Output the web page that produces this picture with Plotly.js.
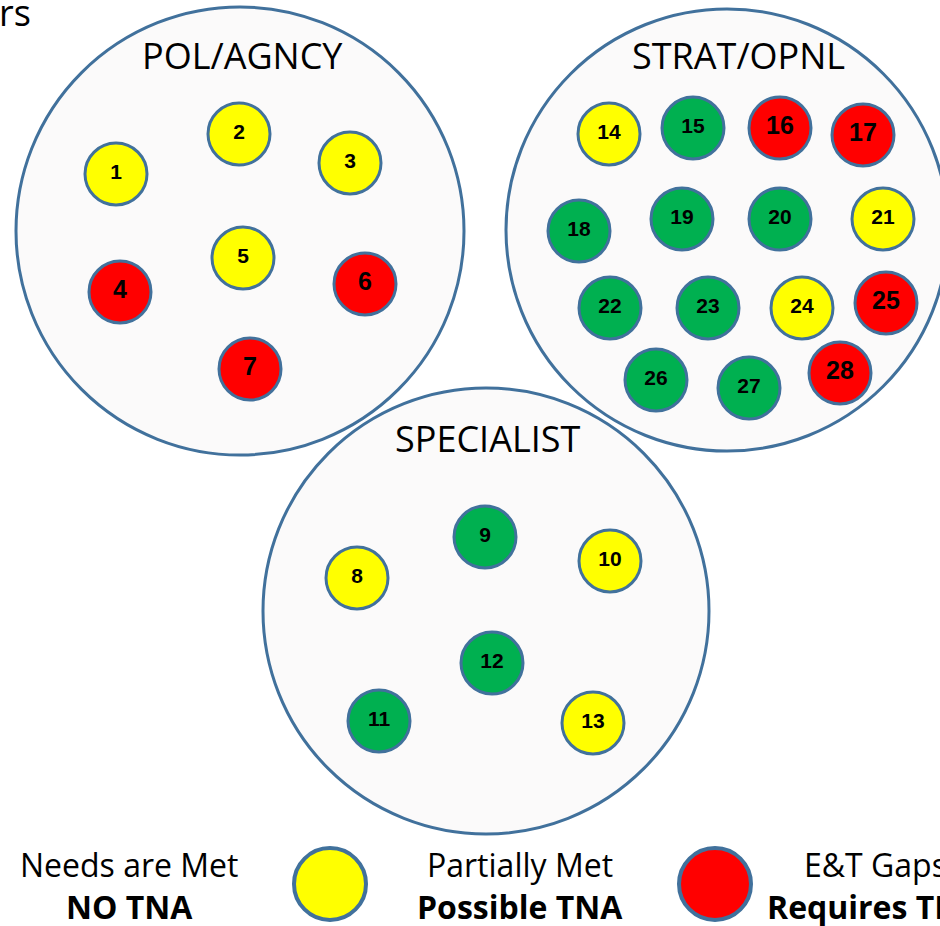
<!DOCTYPE html>
<html>
<head>
<meta charset="utf-8">
<script src="https://cdn.plot.ly/plotly-3.0.1.min.js"></script>
<style>html,body{margin:0;padding:0;background:#fff;}#chart{width:940px;height:926px;}</style>
</head>
<body>
<div id="chart"></div>
<script>
// ---- data ----
var groupNames = ["POL/AGNCY", "STRAT/OPNL", "SPECIALIST"];
var groupCx = [240, 727, 486];
var groupCy = [231, 230, 611];
var groupR = [224, 221, 223];

var nodeIds = [1,2,3,4,5,6,7,8,9,10,11,12,13,14,15,16,17,18,19,20,21,22,23,24,25,26,27,28];
var nodeX = [116,239,350,120,243,365,250, 357,485,610,379,492,593, 609,693,780,863,579,682,780,883,610,708,802,886,656,749,840];
var nodeY = [174,134,163,292,258,284,369, 578,537,561,721,663,723, 134,128,128,135,231,219,219,219,308,308,308,303,380,388,373];
var nodeStatus = ["P","P","P","G","P","G","G", "P","M","P","M","M","P", "P","M","G","G","M","M","M","P","M","M","P","G","M","M","G"];

var legendLine1 = ["Needs are Met", "Partially Met", "E&T Gaps"];
var legendLine2 = ["NO TNA", "Possible TNA", "Requires TNA"];
var legendStatus = ["P", "G"];

// ---- styles ----
var statusColor = {M: "#00B050", P: "#FFFF00", G: "#FF0000"};
var statusFont = {M: 21, P: 21, G: 25};
var edge = "#41719C";
var fill = "#FBFAFA";

var shapes = [];
for (var i = 0; i < groupNames.length; i++) {
  shapes.push({type: "circle", xref: "x", yref: "y", layer: "below",
    x0: groupCx[i] - groupR[i], x1: groupCx[i] + groupR[i],
    y0: groupCy[i] - groupR[i], y1: groupCy[i] + groupR[i],
    fillcolor: fill, line: {width: 0}});
}
for (var i = 0; i < groupNames.length; i++) {
  shapes.push({type: "circle", xref: "x", yref: "y", layer: "below",
    x0: groupCx[i] - groupR[i], x1: groupCx[i] + groupR[i],
    y0: groupCy[i] - groupR[i], y1: groupCy[i] + groupR[i],
    fillcolor: "rgba(0,0,0,0)", line: {width: 3, color: edge}});
}
var legMarkX = [330, 715];
for (var k = 0; k < legendStatus.length; k++) {
  shapes.push({type: "circle", xref: "x", yref: "y",
    x0: legMarkX[k] - 36, x1: legMarkX[k] + 36, y0: 848, y1: 920,
    fillcolor: statusColor[legendStatus[k]], line: {width: 4, color: edge}});
}

var annotations = [];
var titleY = [55, 55, 438];
var titleX = [242, 738, 487];
for (var i = 0; i < groupNames.length; i++) {
  annotations.push({x: titleX[i], y: titleY[i], xref: "x", yref: "y", text: groupNames[i],
    showarrow: false, xanchor: "center", yanchor: "middle",
    font: {family: "Open Sans", size: 36, color: "#000"}});
}
annotations.push({x: 0, y: 0.987, xref: "paper", yref: "paper", text: "rs", showarrow: false,
  xanchor: "left", yanchor: "middle", xshift: -3,
  font: {family: "Open Sans", size: 36, color: "#000"}});
var legTextX = [129, 520, 875];
for (var k = 0; k < legendLine1.length; k++) {
  annotations.push({x: legTextX[k], y: 864, xref: "x", yref: "y", text: legendLine1[k],
    showarrow: false, xanchor: "center", yanchor: "middle",
    font: {family: "Open Sans", size: 32, color: "#000"}});
  annotations.push({x: legTextX[k], y: 906, xref: "x", yref: "y", text: "<b>" + legendLine2[k] + "</b>",
    showarrow: false, xanchor: "center", yanchor: "middle",
    font: {family: "Open Sans", size: 32, color: "#000"}});
}

var trace = {
  type: "scatter", mode: "markers+text",
  x: nodeX, y: nodeY,
  text: nodeIds.map(function (d) { return "<b>" + d + "</b>"; }),
  textposition: "middle center",
  textfont: {family: "Liberation Sans, Arial", color: "#000",
    size: nodeStatus.map(function (s) { return statusFont[s]; })},
  marker: {size: 62, color: nodeStatus.map(function (s) { return statusColor[s]; }),
    line: {width: 3, color: edge}},
  hoverinfo: "skip", cliponaxis: false
};

var layout = {
  width: 940, height: 926,
  margin: {l: 0, r: 0, t: 0, b: 0},
  paper_bgcolor: "#fff", plot_bgcolor: "#fff",
  showlegend: false,
  xaxis: {range: [0, 940], visible: false, fixedrange: true},
  yaxis: {range: [926, 0], visible: false, fixedrange: true},
  shapes: shapes, annotations: annotations
};

Plotly.newPlot("chart", [trace], layout, {displayModeBar: false, staticPlot: true});
</script>
</body>
</html>
